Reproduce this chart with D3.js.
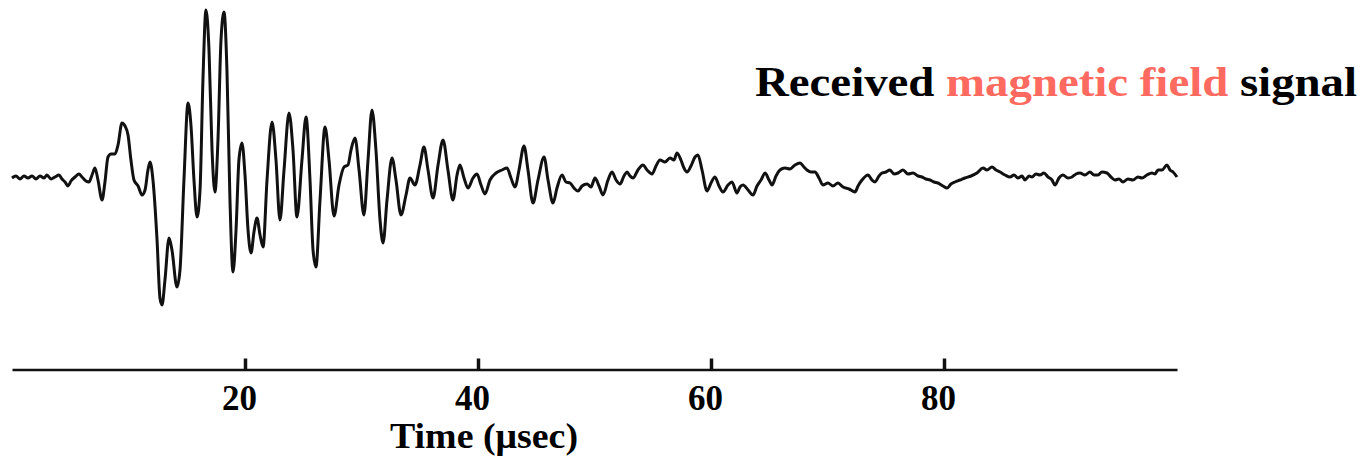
<!DOCTYPE html>
<html>
<head>
<meta charset="utf-8">
<script src="https://cdn.jsdelivr.net/npm/d3@7"></script>
<style>
  body { margin: 0; background: #fff; }
  svg { display: block; }
</style>
</head>
<body>
<script>
// time axis (μsec)
const time = [
  0.0, 0.34, 0.69, 1.03, 1.37, 1.72, 2.06, 2.40, 2.75, 3.00, 3.35, 3.69, 4.03, 4.29, 4.55, 4.81, 5.06, 5.41, 5.75, 6.01,
  6.35, 6.61, 6.87, 7.12, 7.38, 7.73, 7.98, 8.24, 8.50, 8.84, 9.10, 9.44, 9.70, 9.96, 10.21, 10.47, 10.82, 11.16, 11.42, 11.67,
  11.85, 12.10, 12.45, 12.70, 12.88, 13.13, 13.48, 13.73, 14.16, 14.42, 14.76, 15.11, 15.36, 15.62, 15.88, 16.14, 16.39, 16.65, 16.91, 17.17,
  17.42, 17.68, 17.94, 18.20, 18.45, 18.71, 18.97, 19.23, 19.48, 19.74, 20.00, 20.26, 20.52, 20.77, 21.03, 21.29, 21.55, 21.89, 22.32, 22.66,
  23.00, 23.35, 23.78, 24.12, 24.46, 24.89, 25.24, 25.58, 25.84, 26.09, 26.44, 26.87, 27.21, 27.64, 28.07, 28.50, 28.84, 29.10, 29.44, 29.79,
  30.21, 30.56, 30.90, 31.24, 31.59, 31.85, 32.19, 32.62, 32.96, 33.39, 33.82, 34.16, 34.59, 35.02, 35.36, 35.71, 36.14, 36.57, 37.00, 37.42,
  37.85, 38.20, 38.45, 38.80, 39.14, 39.57, 39.91, 40.26, 40.60, 41.03, 41.55, 42.06, 42.49, 42.83, 43.18, 43.52, 43.95, 44.29, 44.72, 45.15,
  45.67, 46.01, 46.44, 46.78, 47.21, 47.55, 47.90, 48.24, 48.58, 48.93, 49.36, 49.70, 50.04, 50.39, 50.73, 51.16, 51.50, 51.85, 52.19, 52.53,
  52.79, 53.05, 53.30, 53.73, 54.16, 54.51, 54.94, 55.28, 55.62, 56.05, 56.48, 56.82, 57.08, 57.42, 57.68, 57.94, 58.28, 58.63, 58.88, 59.23,
  59.66, 60.00, 60.34, 60.69, 61.03, 61.46, 61.80, 62.23, 62.49, 62.75, 63.18, 63.61, 63.95, 64.29, 64.64, 64.98, 65.24, 65.58, 65.92, 66.35,
  66.78, 67.21, 67.64, 67.98, 68.24, 68.58, 68.93, 69.27, 69.61, 70.04, 70.47, 70.90, 71.33, 71.85, 72.36, 72.62, 72.96, 73.48, 73.82, 74.08,
  74.42, 74.68, 75.02, 75.36, 75.71, 76.05, 76.48, 76.91, 77.34, 77.77, 78.11, 78.45, 78.80, 79.14, 79.48, 79.91, 80.26, 80.60, 80.94, 81.37,
  81.80, 82.32, 82.83, 83.35, 83.69, 84.12, 84.46, 84.81, 85.24, 85.67, 86.01, 86.35, 86.70, 86.95, 87.30, 87.55, 87.90, 88.24, 88.58, 88.93,
  89.27, 89.53, 89.87, 90.21, 90.64, 90.99, 91.33, 91.67, 92.10, 92.53, 92.88, 93.22, 93.56, 93.99, 94.33, 94.68, 95.02, 95.36, 95.79, 96.22,
  96.65, 97.00, 97.42, 97.85, 98.11, 98.37, 98.71, 99.14, 99.40, 99.66, 100.0
];

// received signal amplitude (arbitrary units)
const signal = [
  -0.1, 0.1, -0.2, 0.1, -0.1, 0.1, -0.2, 0.1, -0.1, 0.2, -0.2, 0.0, 0.2, -0.2, -0.5, -0.9, -0.4, 0.0, 0.3, 0.0,
  -0.4, -0.5, 0.2, 0.9, -0.3, -2.3, -0.5, 2.0, 2.3, 2.3, 3.2, 5.4, 5.1, 4.2, 1.7, -0.3, -0.9, -1.8, -1.3, 0.7,
  1.5, -0.3, -6.3, -12.1, -12.8, -10.3, -6.1, -7.3, -11.0, -9.3, -0.3, 7.4, 5.2, -0.3, -4.0, -1.3, 9.7, 16.7, 12.7, 2.7,
  -1.5, 3.7, 13.7, 16.5, 10.7, -2.3, -9.5, -5.3, 1.7, 3.4, 0.2, -5.3, -7.6, -5.5, -4.1, -5.8, -7.0, -0.3, 5.5, 1.7,
  -4.3, 0.7, 6.4, 2.7, -4.0, 1.7, 6.0, -0.3, -7.3, -9.0, -2.3, 5.0, 1.7, -3.9, -0.8, 1.0, 1.2, 2.7, 3.9, 0.7,
  -3.8, 1.7, 6.7, 2.7, -4.3, -6.6, -2.3, 1.9, -0.3, -3.8, -1.8, -0.1, -0.8, 1.2, 3.0, 0.7, -2.1, 1.2, 3.7, 0.7,
  -2.3, 0.2, 1.2, -0.1, -1.1, -0.1, 0.3, -0.8, -1.7, -0.3, 0.4, 0.7, 0.9, -0.1, -1.0, 0.7, 3.1, 0.7, -2.6, -0.3,
  2.0, -0.3, -2.6, -1.1, 0.2, -0.5, -0.6, -1.1, -1.4, -0.9, -0.7, -1.0, -0.1, -0.9, -1.8, -0.3, 0.5, -0.3, -0.7, 0.1,
  0.5, 0.1, -0.1, 0.7, 1.2, 0.7, 0.3, 1.1, 1.7, 1.5, 1.9, 1.7, 2.4, 1.7, 0.9, 0.5, 1.1, 2.0, 2.2, 0.7,
  -1.4, -0.6, 0.0, -0.9, -1.5, -0.8, -0.5, -1.6, -1.0, -0.8, -1.3, -1.8, -0.9, -0.3, 0.4, -0.3, -0.8, 0.1, 0.7, 0.9,
  0.8, 1.2, 1.4, 1.0, 0.7, 0.5, 0.5, -0.1, -0.8, -0.6, -0.9, -0.6, -1.0, -1.2, -1.5, -0.9, -0.3, 0.2, -0.3, -0.5,
  0.1, 0.4, 0.5, 0.7, 0.3, 0.4, 0.7, 0.3, 0.4, 0.1, 0.0, -0.2, -0.3, -0.5, -0.6, -0.9, -1.1, -0.7, -0.5, -0.3,
  -0.1, 0.1, 0.4, 0.9, 0.7, 1.0, 0.7, 0.5, 0.2, 0.0, 0.2, -0.1, 0.1, -0.3, 0.1, 0.0, 0.3, 0.2, 0.4, 0.0,
  -0.3, -0.8, -0.1, 0.2, -0.1, 0.0, 0.3, 0.4, 0.2, 0.5, 0.2, 0.2, 0.5, 0.4, 0.0, -0.3, -0.2, -0.5, -0.2, -0.3,
  0.0, -0.1, 0.2, 0.4, 0.3, 0.7, 0.7, 1.2, 0.7, 0.5, 0.0
];

const tickValues = [20, 40, 60, 80];
const tickLabels = ["20", "40", "60", "80"];

const width = 1366;
const height = 462;

const svg = d3
  .select("body")
  .append("svg")
  .attr("width", width)
  .attr("height", height);

const x = d3.scaleLinear().domain([0, 100]).range([12, 1177]);
const y = d3.scaleLinear().domain([-20, 20]).range([377, -23]);

const points = time.map((t, i) => [t, signal[i]]);

const serif = "'Liberation Serif', 'Times New Roman', serif";

// 신호 곡선
const line = d3
  .line()
  .x((d) => x(d[0]))
  .y((d) => y(d[1]))
  .curve(d3.curveMonotoneX);

svg
  .append("path")
  .datum(points)
  .attr("d", line)
  .attr("fill", "none")
  .attr("stroke", "#111")
  .attr("stroke-width", 3)
  .attr("stroke-linejoin", "round");

// time axis, ticks point up
const axis = svg
  .append("g")
  .attr("transform", "translate(0,369.5)")
  .call(
    d3
      .axisBottom(x)
      .tickValues(tickValues)
      .tickFormat((d, i) => tickLabels[i])
      .tickSizeInner(-11)
      .tickSizeOuter(0)
      .tickPadding(16)
  );

axis.select(".domain").attr("stroke", "#111").attr("stroke-width", 2.5);
axis.selectAll(".tick line").attr("stroke", "#111").attr("stroke-width", 3.5);
axis
  .selectAll(".tick text")
  .attr("dx", -6)
  .attr("fill", "#000")
  .attr("font-family", serif)
  .attr("font-weight", "bold")
  .attr("font-size", 35);

svg
  .append("text")
  .attr("x", 390)
  .attr("y", 448)
  .attr("textLength", 188)
  .attr("lengthAdjust", "spacingAndGlyphs")
  .attr("font-family", serif)
  .attr("font-weight", "bold")
  .attr("font-size", 35)
  .text("Time (μsec)");

// title
const title = svg
  .append("text")
  .attr("x", 755)
  .attr("y", 96)
  .attr("textLength", 602)
  .attr("lengthAdjust", "spacingAndGlyphs")
  .attr("font-family", serif)
  .attr("font-weight", "bold")
  .attr("font-size", 43);

title.append("tspan").attr("fill", "#000").text("Received ");
title.append("tspan").attr("fill", "#ff6a60").text("magnetic field");
title.append("tspan").attr("fill", "#000").text(" signal");
</script>
</body>
</html>
